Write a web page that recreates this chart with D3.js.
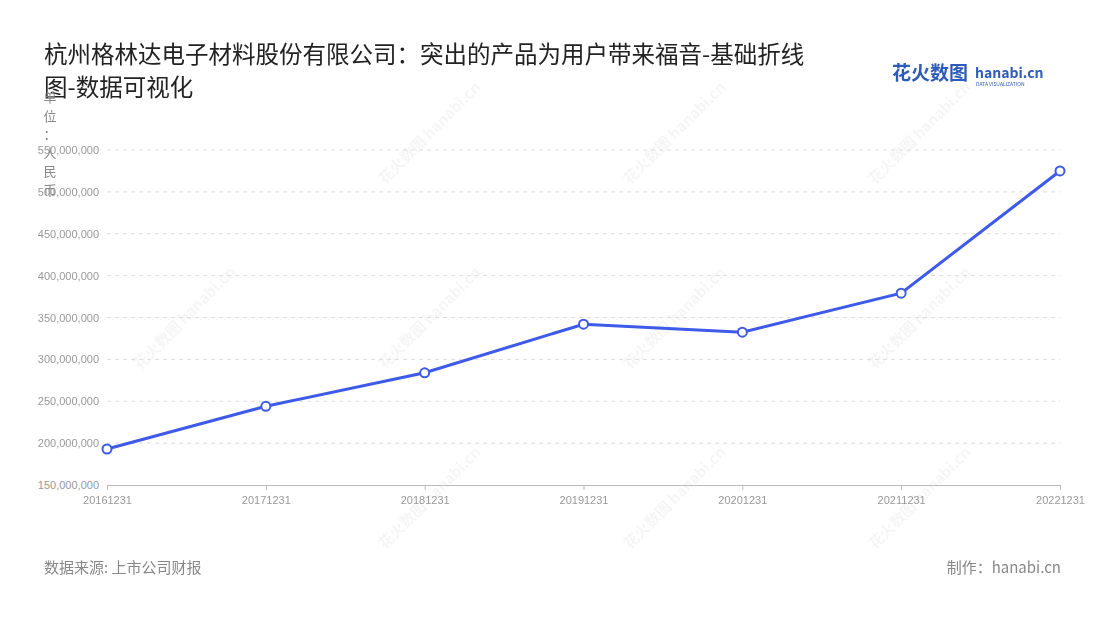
<!DOCTYPE html>
<html><head><meta charset="utf-8">
<script src="https://cdn.jsdelivr.net/npm/d3@7"></script>
<style>body{margin:0;background:#fff;font-family:"Noto Sans CJK SC","Noto Sans",sans-serif}</style>
</head><body><svg id="c" width="1100" height="620"></svg>
<script>
const categories=["20161231","20171231","20181231","20191231","20201231","20211231","20221231"];
const values=[193000000,244000000,284000000,342000000,332500000,379000000,525000000];
const yTicks=[150000000,200000000,250000000,300000000,350000000,400000000,450000000,500000000,550000000];
const title1="杭州格林达电子材料股份有限公司：突出的产品为用户带来福音-基础折线",title2="图-数据可视化";
const unitLabel="单位：人民币";

const svg=d3.select("#c");
const x=d3.scalePoint().domain(categories).range([107,1060]);
const y=d3.scaleLinear().domain([150000000,550000000]).range([485,150]);

// watermarks
const wm=svg.append("g").attr("fill","#000").attr("opacity",0.04).attr("font-size",15).attr("font-weight",700);
[[385,185],[630,185],[875,185],[140,370],[385,370],[630,370],[875,370],[385,550],[630,550],[875,550]].forEach(p=>{
  wm.append("text").attr("transform",`translate(${p[0]},${p[1]}) rotate(-45)`).text("花火数图 hanabi.cn");
});

svg.append("text").attr("x",44).attr("y",63).attr("font-size",23.5).attr("fill","#222").text(title1);
svg.append("text").attr("x",44).attr("y",96).attr("font-size",23.5).attr("fill","#222").text(title2);
svg.append("text").attr("x",892).attr("y",80).attr("font-size",19).attr("font-weight",700).attr("fill","#2d5bb9").text("花火数图");
svg.append("text").attr("x",975).attr("y",78).attr("font-size",14).attr("font-weight",700).attr("fill","#2d5bb9").text("hanabi.cn");
svg.append("text").attr("x",976).attr("y",86).attr("font-size",5).attr("fill","#2d5bb9").text("DATA VISUALIZATION");

// grid
svg.append("g").selectAll("line").data(yTicks.slice(1)).join("line")
 .attr("x1",107).attr("x2",1060).attr("y1",d=>y(d)).attr("y2",d=>y(d))
 .attr("stroke","#ddd").attr("stroke-dasharray","4,4");
const ya=svg.append("g").attr("transform","translate(107,0)").call(d3.axisLeft(y).tickValues(yTicks).tickFormat(d3.format(",")).tickSize(0).tickPadding(8));
ya.select(".domain").remove();
ya.selectAll("text").attr("fill","#999").attr("font-size",11);
const xa=svg.append("g").attr("transform","translate(0,485)").call(d3.axisBottom(x).tickSize(5).tickPadding(6));
xa.select(".domain").attr("stroke","#bbb");
xa.selectAll("line").attr("stroke","#bbb");
xa.selectAll("text").attr("fill","#999").attr("font-size",11);

// unit label vertical
svg.append("g").selectAll("text").data(Array.from(unitLabel)).join("text")
 .attr("x",50).attr("y",(d,i)=>102+i*18.5).attr("text-anchor","middle").attr("font-size",13).attr("fill","#888").text(d=>d);

svg.append("path").datum(values).attr("fill","none").attr("stroke","#3d5ae8").attr("stroke-width",3)
 .attr("d",d3.line().x((d,i)=>x(categories[i])).y(d=>y(d)));
svg.append("g").selectAll("circle").data(values).join("circle")
 .attr("cx",(d,i)=>x(categories[i])).attr("cy",d=>y(d)).attr("r",4.5)
 .attr("fill","#fff").attr("stroke","#3d5ae8").attr("stroke-width",2);

svg.append("text").attr("x",44).attr("y",573).attr("font-size",15).attr("fill","#888").text("数据来源: 上市公司财报");
svg.append("text").attr("x",1061).attr("y",573).attr("text-anchor","end").attr("font-size",15).attr("fill","#888").text("制作：hanabi.cn");
</script></body></html>
